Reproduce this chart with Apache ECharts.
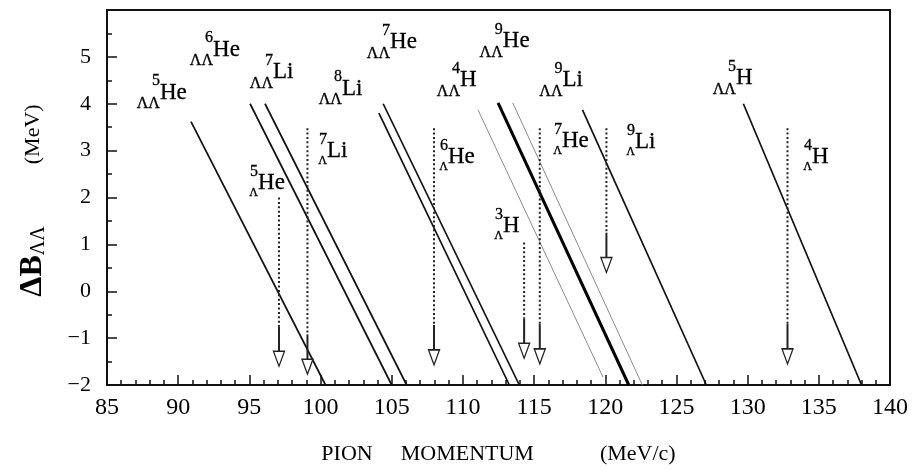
<!DOCTYPE html>
<html>
<head>
<meta charset="utf-8">
<script src="https://cdn.jsdelivr.net/npm/echarts@6/dist/echarts.min.js"></script>
<style>
  html, body { margin: 0; padding: 0; background: #fff; }
  #chart { width: 916px; height: 470px; }
</style>
</head>
<body>
<div id="chart"></div>
<script>
// ΛΛ-hypernucleus kinematic lines: [p at upper end, ΔB at upper end, p at lower end, ΔB at lower end]
const doubleLambdaLines = [
  [90.9, 3.62, 100.35, -2.0],
  [95.05, 4.0, 105.0, -2.0],
  [96.1, 4.0, 106.05, -2.0],
  [104.1, 3.8, 113.26, -2.0],
  [104.4, 4.0, 113.96, -2.0],
  [111.06, 3.87, 119.84, -1.83],
  [112.47, 4.02, 121.65, -2.0],
  [113.5, 4.02, 122.6, -2.0],
  [118.4, 3.87, 127.1, -2.0],
  [129.7, 4.0, 138.0, -2.0]
];
// stroke weight of each line above: n = normal, f = faint, h = heavy
const lineWeights = ['n', 'n', 'n', 'n', 'n', 'f', 'h', 'f', 'n', 'n'];

// single-Λ hypernucleus momenta: guide starts at ΔB top and ends at the arrow tip
const singleLambdaP = [97.08, 99.08, 107.97, 114.3, 115.4, 120.08, 132.8];
const singleLambdaTop = [2.0, 3.48, 3.48, 1.04, 3.48, 3.48, 3.48];
const singleLambdaTip = [-1.6, -1.77, -1.57, -1.43, -1.55, 0.4, -1.55];

// ΛΛ hypernucleus labels (anchor = left edge of element symbol)
const llMass = ['5', '6', '7', '8', '7', '4', '9', '9', '5'];
const llElement = ['He', 'He', 'Li', 'Li', 'He', 'H', 'He', 'Li', 'H'];
const llLabelP = [88.72, 92.45, 96.66, 101.5, 104.88, 109.8, 112.8, 117.0, 129.18];
const llLabelB = [4.23, 5.15, 4.67, 4.31, 5.31, 4.5, 5.33, 4.5, 4.54];

// Λ hypernucleus labels
const lMass = ['5', '7', '6', '3', '7', '9', '4'];
const lElement = ['He', 'Li', 'He', 'H', 'He', 'Li', 'H'];
const lLabelP = [95.61, 100.45, 108.95, 112.82, 116.96, 122.09, 134.52];
const lLabelB = [2.31, 2.99, 2.86, 1.39, 3.2, 3.18, 2.86];

const FONT = 'Liberation Serif';
const INK = '#000';

const weightStyle = {
  n: { color: '#111', width: 1.7 },
  f: { color: '#8a8a8a', width: 1 },
  h: { color: '#000', width: 3 }
};

const series = [];

doubleLambdaLines.forEach((l, i) => {
  series.push({
    type: 'line',
    data: [[l[0], l[1]], [l[2], l[3]]],
    symbol: 'none',
    silent: true,
    z: 2,
    lineStyle: weightStyle[lineWeights[i]]
  });
});

// dotted guides with a short solid stem above each open arrow head
singleLambdaP.forEach((p, i) => {
  const tip = singleLambdaTip[i];
  const headTop = tip + 0.32;
  const stemTop = tip + 0.85;
  series.push({
    type: 'line',
    data: [[p, singleLambdaTop[i]], [p, stemTop]],
    symbol: 'none', silent: true, z: 3,
    lineStyle: { color: '#222', width: 2, type: [2, 2.4] }
  });
  series.push({
    type: 'line',
    data: [[p, stemTop], [p, headTop]],
    symbol: 'none', silent: true, z: 3,
    lineStyle: { color: '#222', width: 2 }
  });
});

series.push({
  type: 'scatter',
  data: singleLambdaP.map((p, i) => [p, singleLambdaTip[i]]),
  symbol: 'path://M0,0L10,0L5,15Z',
  symbolSize: [11, 15],
  symbolOffset: [0, '-50%'],
  itemStyle: { color: '#fff', borderColor: '#222', borderWidth: 1.4, opacity: 1 },
  silent: true,
  z: 5
});

function textSeries(ps, bs, texts, position, offset, size) {
  return {
    type: 'scatter',
    data: ps.map((p, i) => [p, bs[i]]),
    symbol: 'circle',
    symbolSize: 0,
    itemStyle: { opacity: 1 },
    silent: true,
    z: 6,
    label: {
      show: true,
      position: position,
      distance: 0,
      offset: offset,
      formatter: (d) => texts[d.dataIndex],
      fontFamily: FONT,
      fontSize: size,
      color: INK,
      textBorderColor: INK,
      textBorderWidth: 0.3
    }
  };
}

const dd = llMass.map(() => 'ΛΛ');
const ss = lMass.map(() => 'Λ');

series.push(textSeries(llLabelP, llLabelB, llElement, 'right', [0, 0], 23));
series.push(textSeries(llLabelP, llLabelB, llMass, 'left', [0, -12], 16));
series.push(textSeries(llLabelP, llLabelB, dd, 'left', [0, 11], 16));

series.push(textSeries(lLabelP, lLabelB, lElement, 'right', [0, 0], 23));
series.push(textSeries(lLabelP, lLabelB, lMass, 'left', [0, -11], 16));
series.push(textSeries(lLabelP, lLabelB, ss, 'left', [0, 10], 12));

const chart = echarts.init(document.getElementById('chart'), null, { renderer: 'canvas' });

chart.setOption({
  animation: false,
  backgroundColor: '#fff',
  grid: {
    left: 107, right: 26, top: 10, bottom: 84,
    show: true, borderColor: '#111', borderWidth: 2
  },
  xAxis: {
    type: 'value',
    min: 85, max: 140, interval: 5,
    name: '{t|PION}{g1|}{t|MOMENTUM}{g2|}{t|(MeV/c)}',
    nameLocation: 'middle',
    nameGap: 58,
    nameTextStyle: {
      rich: {
        t: { fontFamily: FONT, fontSize: 22, color: INK },
        g1: { width: 28 },
        g2: { width: 66 }
      }
    },
    axisLine: { onZero: false, lineStyle: { color: '#111', width: 2 } },
    axisTick: { inside: true, length: 10, lineStyle: { color: '#111', width: 1.5 } },
    minorTick: { show: true, splitNumber: 5, length: 5, lineStyle: { color: '#111', width: 1.5 } },
    splitLine: { show: false },
    axisLabel: { fontFamily: FONT, fontSize: 24, color: INK, margin: 11 }
  },
  yAxis: {
    type: 'value',
    min: -2, max: 6, interval: 1,
    name: '{d|ΔB}{s|ΛΛ}{g|}{u|(MeV)}{e|}',
    nameLocation: 'middle',
    nameGap: 58,
    nameRotate: 90,
    nameTextStyle: {
      rich: {
        d: { fontFamily: FONT, fontSize: 32, fontWeight: 'bold', color: INK, verticalAlign: 'middle', lineHeight: 32 },
        s: { fontFamily: FONT, fontSize: 20, color: INK, verticalAlign: 'bottom', lineHeight: 18 },
        g: { width: 62 },
        u: { fontFamily: FONT, fontSize: 22, color: INK, verticalAlign: 'middle' },
        e: { width: 6 }
      }
    },
    axisLine: { onZero: false, lineStyle: { color: '#111', width: 2 } },
    axisTick: { inside: true, length: 10, lineStyle: { color: '#111', width: 1.5 } },
    minorTick: { show: true, splitNumber: 2, length: 5, lineStyle: { color: '#111', width: 1.5 } },
    splitLine: { show: false },
    axisLabel: {
      fontFamily: FONT, fontSize: 22, color: INK, margin: 16,
      formatter: (v) => (v === 6 ? '' : String(v).replace('-', '\u2212'))
    }
  },
  series: series
});
</script>
</body>
</html>
